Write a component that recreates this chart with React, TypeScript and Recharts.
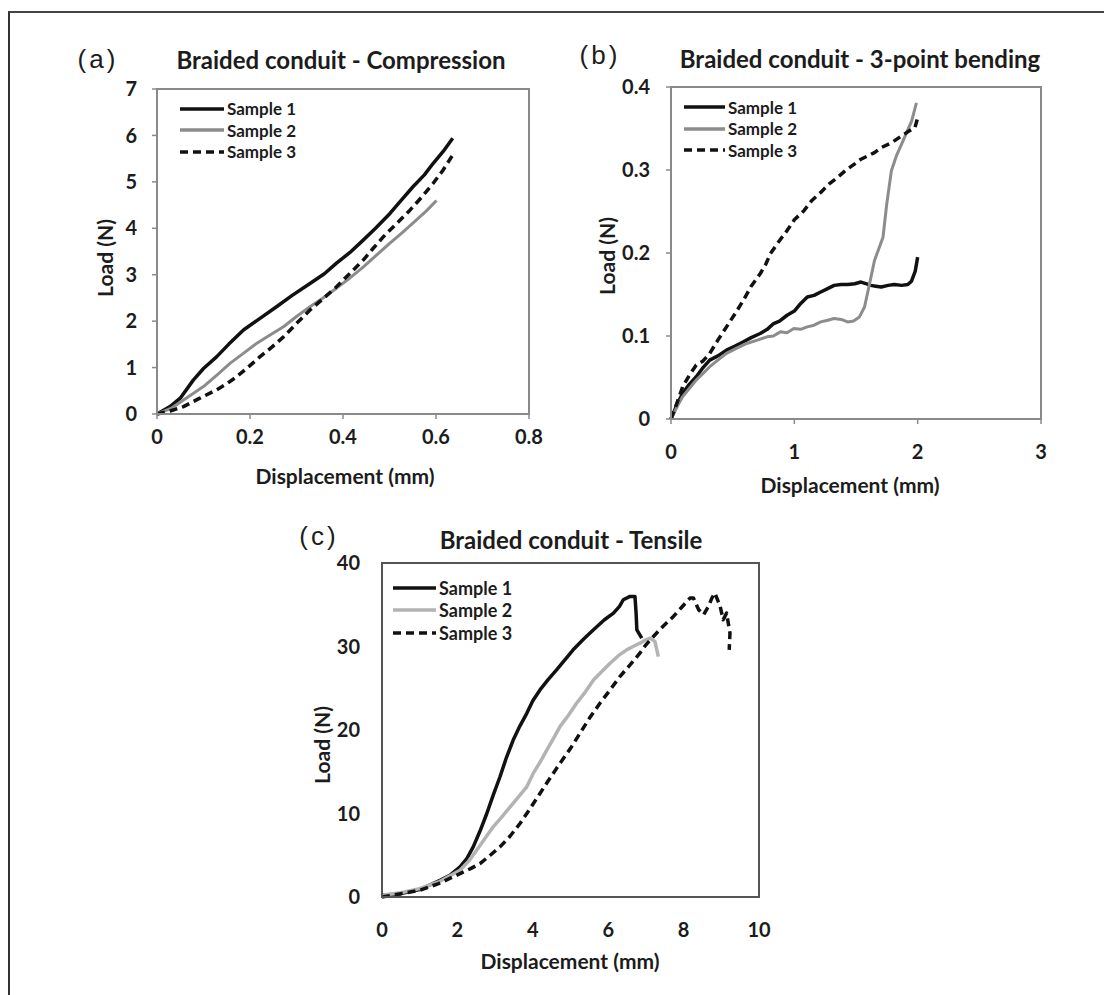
import React from "react";
import { LineChart, Line, XAxis, YAxis, Legend, ReferenceArea } from "recharts";

const FONT = "Lato, 'Open Sans', sans-serif";
const INK = "#1c1c1c";
const BLACK = "#111111";

// (a) compression
const compTicksX = [0, 0.2, 0.4, 0.6, 0.8];
const compTicksY = [0, 1, 2, 3, 4, 5, 6, 7];
const compSample1 = [
  { x: 0, y: 0 }, { x: 0.028, y: 0.16 }, { x: 0.05, y: 0.34 }, { x: 0.078, y: 0.73 }, { x: 0.1, y: 0.98 },
  { x: 0.128, y: 1.23 }, { x: 0.154, y: 1.5 }, { x: 0.186, y: 1.81 }, { x: 0.22, y: 2.05 }, { x: 0.257, y: 2.31 },
  { x: 0.29, y: 2.55 }, { x: 0.329, y: 2.81 }, { x: 0.36, y: 3.02 }, { x: 0.386, y: 3.25 }, { x: 0.415, y: 3.48 },
  { x: 0.444, y: 3.75 }, { x: 0.47, y: 4.0 }, { x: 0.501, y: 4.32 }, { x: 0.525, y: 4.6 }, { x: 0.551, y: 4.9 },
  { x: 0.575, y: 5.15 }, { x: 0.594, y: 5.4 }, { x: 0.615, y: 5.65 }, { x: 0.636, y: 5.94 },
];
const compSample2 = [
  { x: 0, y: 0 }, { x: 0.03, y: 0.12 }, { x: 0.057, y: 0.3 }, { x: 0.1, y: 0.59 }, { x: 0.13, y: 0.85 },
  { x: 0.157, y: 1.09 }, { x: 0.185, y: 1.3 }, { x: 0.214, y: 1.52 }, { x: 0.243, y: 1.7 }, { x: 0.272, y: 1.88 },
  { x: 0.3, y: 2.1 }, { x: 0.329, y: 2.31 }, { x: 0.357, y: 2.5 }, { x: 0.386, y: 2.71 }, { x: 0.415, y: 2.93 },
  { x: 0.444, y: 3.17 }, { x: 0.472, y: 3.42 }, { x: 0.501, y: 3.68 }, { x: 0.53, y: 3.93 }, { x: 0.558, y: 4.18 },
  { x: 0.58, y: 4.38 }, { x: 0.601, y: 4.6 },
];
const compSample3 = [
  { x: 0, y: 0 }, { x: 0.03, y: 0.07 }, { x: 0.057, y: 0.16 }, { x: 0.09, y: 0.33 }, { x: 0.128, y: 0.52 },
  { x: 0.15, y: 0.65 }, { x: 0.171, y: 0.8 }, { x: 0.195, y: 1.0 }, { x: 0.221, y: 1.23 }, { x: 0.247, y: 1.44 },
  { x: 0.272, y: 1.66 }, { x: 0.3, y: 1.95 }, { x: 0.329, y: 2.24 }, { x: 0.357, y: 2.48 }, { x: 0.386, y: 2.74 },
  { x: 0.415, y: 3.03 }, { x: 0.444, y: 3.32 }, { x: 0.465, y: 3.57 }, { x: 0.487, y: 3.82 }, { x: 0.515, y: 4.1 },
  { x: 0.544, y: 4.39 }, { x: 0.57, y: 4.68 }, { x: 0.594, y: 4.97 }, { x: 0.615, y: 5.25 }, { x: 0.638, y: 5.61 },
];

// (b) 3-point bending
const bendTicksX = [0, 1, 2, 3];
const bendTicksY = [0, 0.1, 0.2, 0.3, 0.4];
const bendSample1 = [
  { x: 0, y: 0 }, { x: 0.05, y: 0.018 }, { x: 0.095, y: 0.031 }, { x: 0.15, y: 0.042 }, { x: 0.205, y: 0.051 },
  { x: 0.26, y: 0.062 }, { x: 0.314, y: 0.071 }, { x: 0.38, y: 0.076 }, { x: 0.45, y: 0.083 }, { x: 0.52, y: 0.088 },
  { x: 0.587, y: 0.093 }, { x: 0.65, y: 0.098 }, { x: 0.723, y: 0.103 }, { x: 0.78, y: 0.108 }, { x: 0.832, y: 0.115 },
  { x: 0.88, y: 0.118 }, { x: 0.941, y: 0.125 }, { x: 1.0, y: 0.13 }, { x: 1.05, y: 0.139 }, { x: 1.105, y: 0.147 },
  { x: 1.16, y: 0.149 }, { x: 1.214, y: 0.153 }, { x: 1.27, y: 0.157 }, { x: 1.323, y: 0.161 }, { x: 1.38, y: 0.162 },
  { x: 1.432, y: 0.162 }, { x: 1.49, y: 0.163 }, { x: 1.54, y: 0.165 }, { x: 1.58, y: 0.163 }, { x: 1.62, y: 0.161 },
  { x: 1.66, y: 0.16 }, { x: 1.705, y: 0.159 }, { x: 1.76, y: 0.161 }, { x: 1.81, y: 0.162 }, { x: 1.87, y: 0.161 },
  { x: 1.92, y: 0.162 }, { x: 1.95, y: 0.166 }, { x: 1.98, y: 0.178 }, { x: 2.0, y: 0.195 },
];
const bendSample2 = [
  { x: 0, y: 0 }, { x: 0.05, y: 0.015 }, { x: 0.095, y: 0.027 }, { x: 0.15, y: 0.037 }, { x: 0.205, y: 0.047 },
  { x: 0.26, y: 0.055 }, { x: 0.314, y: 0.063 }, { x: 0.38, y: 0.071 }, { x: 0.45, y: 0.079 }, { x: 0.53, y: 0.085 },
  { x: 0.614, y: 0.091 }, { x: 0.7, y: 0.095 }, { x: 0.778, y: 0.099 }, { x: 0.83, y: 0.1 }, { x: 0.887, y: 0.105 },
  { x: 0.94, y: 0.104 }, { x: 0.996, y: 0.109 }, { x: 1.05, y: 0.108 }, { x: 1.105, y: 0.111 }, { x: 1.16, y: 0.113 },
  { x: 1.214, y: 0.117 }, { x: 1.27, y: 0.119 }, { x: 1.323, y: 0.121 }, { x: 1.38, y: 0.12 }, { x: 1.432, y: 0.117 },
  { x: 1.48, y: 0.118 }, { x: 1.528, y: 0.123 }, { x: 1.569, y: 0.135 }, { x: 1.61, y: 0.163 }, { x: 1.65, y: 0.191 },
  { x: 1.719, y: 0.219 }, { x: 1.75, y: 0.26 }, { x: 1.787, y: 0.299 }, { x: 1.83, y: 0.318 }, { x: 1.869, y: 0.331 },
  { x: 1.91, y: 0.345 }, { x: 1.951, y: 0.359 }, { x: 1.99, y: 0.381 },
];
const bendSample3 = [
  { x: 0, y: 0 }, { x: 0.05, y: 0.02 }, { x: 0.095, y: 0.039 }, { x: 0.15, y: 0.053 }, { x: 0.205, y: 0.065 },
  { x: 0.26, y: 0.07 }, { x: 0.314, y: 0.079 }, { x: 0.38, y: 0.095 }, { x: 0.45, y: 0.111 }, { x: 0.52, y: 0.127 },
  { x: 0.587, y: 0.143 }, { x: 0.65, y: 0.16 }, { x: 0.723, y: 0.175 }, { x: 0.77, y: 0.187 }, { x: 0.805, y: 0.199 },
  { x: 0.87, y: 0.213 }, { x: 0.941, y: 0.227 }, { x: 1.0, y: 0.24 }, { x: 1.078, y: 0.251 }, { x: 1.14, y: 0.263 },
  { x: 1.214, y: 0.273 }, { x: 1.28, y: 0.283 }, { x: 1.35, y: 0.291 }, { x: 1.42, y: 0.3 }, { x: 1.487, y: 0.307 },
  { x: 1.54, y: 0.313 }, { x: 1.596, y: 0.317 }, { x: 1.65, y: 0.321 }, { x: 1.705, y: 0.327 }, { x: 1.79, y: 0.333 },
  { x: 1.869, y: 0.341 }, { x: 1.93, y: 0.347 }, { x: 1.978, y: 0.351 }, { x: 2.0, y: 0.363 },
];

// (c) tensile
const tensTicksX = [0, 2, 4, 6, 8, 10];
const tensTicksY = [0, 10, 20, 30, 40];
const tensSample1 = [
  { x: 0, y: 0.2 }, { x: 0.5, y: 0.4 }, { x: 1.0, y: 0.9 }, { x: 1.54, y: 2.0 }, { x: 1.8, y: 2.6 },
  { x: 2.07, y: 3.6 }, { x: 2.25, y: 4.6 }, { x: 2.42, y: 6.0 }, { x: 2.6, y: 7.9 }, { x: 2.78, y: 10.0 },
  { x: 2.95, y: 12.2 }, { x: 3.13, y: 14.4 }, { x: 3.3, y: 16.7 }, { x: 3.48, y: 18.8 }, { x: 3.66, y: 20.5 },
  { x: 3.84, y: 22.0 }, { x: 4.0, y: 23.5 }, { x: 4.19, y: 24.8 }, { x: 4.4, y: 26.0 }, { x: 4.63, y: 27.2 },
  { x: 4.85, y: 28.4 }, { x: 5.07, y: 29.6 }, { x: 5.35, y: 30.9 }, { x: 5.61, y: 32.0 }, { x: 5.9, y: 33.2 },
  { x: 6.14, y: 34.0 }, { x: 6.3, y: 34.8 }, { x: 6.4, y: 35.6 }, { x: 6.58, y: 36.0 }, { x: 6.71, y: 36.0 },
  { x: 6.74, y: 34.0 }, { x: 6.76, y: 32.0 }, { x: 6.89, y: 31.0 },
];
const tensSample2 = [
  { x: 0, y: 0.2 }, { x: 0.5, y: 0.5 }, { x: 1.0, y: 1.0 }, { x: 1.5, y: 1.8 }, { x: 2.07, y: 3.2 },
  { x: 2.3, y: 4.3 }, { x: 2.51, y: 5.6 }, { x: 2.73, y: 7.0 }, { x: 2.95, y: 8.4 }, { x: 3.18, y: 9.6 },
  { x: 3.4, y: 10.8 }, { x: 3.62, y: 12.0 }, { x: 3.84, y: 13.2 }, { x: 4.01, y: 14.8 }, { x: 4.2, y: 16.2 },
  { x: 4.37, y: 17.6 }, { x: 4.55, y: 19.0 }, { x: 4.72, y: 20.4 }, { x: 4.95, y: 21.8 }, { x: 5.16, y: 23.2 },
  { x: 5.4, y: 24.6 }, { x: 5.61, y: 26.0 }, { x: 5.83, y: 27.0 }, { x: 6.05, y: 28.0 }, { x: 6.27, y: 28.9 },
  { x: 6.49, y: 29.6 }, { x: 6.66, y: 30.0 }, { x: 6.84, y: 30.4 }, { x: 7.0, y: 30.8 }, { x: 7.11, y: 31.0 },
  { x: 7.24, y: 30.6 }, { x: 7.33, y: 28.8 },
];
const tensSample3 = [
  { x: 0, y: 0 }, { x: 0.5, y: 0.4 }, { x: 1.0, y: 0.8 }, { x: 1.5, y: 1.6 }, { x: 2.07, y: 2.8 },
  { x: 2.35, y: 3.4 }, { x: 2.6, y: 4.0 }, { x: 2.87, y: 5.0 }, { x: 3.13, y: 6.0 }, { x: 3.4, y: 7.3 },
  { x: 3.66, y: 8.8 }, { x: 3.93, y: 10.6 }, { x: 4.19, y: 12.4 }, { x: 4.45, y: 14.2 }, { x: 4.72, y: 16.0 },
  { x: 5.0, y: 17.8 }, { x: 5.25, y: 19.6 }, { x: 5.5, y: 21.4 }, { x: 5.78, y: 23.2 }, { x: 6.05, y: 24.8 },
  { x: 6.31, y: 26.4 }, { x: 6.58, y: 27.8 }, { x: 6.84, y: 29.2 }, { x: 7.0, y: 30.2 }, { x: 7.2, y: 31.2 },
  { x: 7.45, y: 32.4 }, { x: 7.73, y: 33.6 }, { x: 7.95, y: 34.7 }, { x: 8.17, y: 35.8 }, { x: 8.26, y: 35.8 },
  { x: 8.4, y: 34.4 }, { x: 8.53, y: 33.8 }, { x: 8.66, y: 34.8 }, { x: 8.75, y: 35.8 }, { x: 8.83, y: 36.4 },
  { x: 8.97, y: 34.8 }, { x: 9.05, y: 33.2 }, { x: 9.14, y: 34.0 }, { x: 9.23, y: 31.6 }, { x: 9.21, y: 29.6 },
];

type Pt = { x: number; y: number };
type Series = { name: string; data: Pt[]; color: string; width: number; dash?: string };
type Box = { x: number; y: number; w: number; h: number };

type PanelProps = {
  plot: Box;
  xTicks: number[];
  yTicks: number[];
  series: Series[];
  boxColor: string;
  tickLen: number;
  xGap: number;
  yGap: number;
  tickFont: number;
  legend: { x: number; y: number; lineW: number; font: number; rowH: number };
};

function Panel({ plot, xTicks, yTicks, series, boxColor, tickLen, xGap, yGap, tickFont, legend }: PanelProps) {
  const left = plot.x - 100;
  const top = plot.y - 20;
  const tick = { fill: INK, fontSize: tickFont, fontFamily: FONT, fontWeight: 700 };
  const xMax = xTicks[xTicks.length - 1];
  const yMax = yTicks[yTicks.length - 1];

  const renderLegend = (props: any) => {
    const payload = props.payload || [];
    return (
      <div>
        {payload.map((p: any) => {
          const s = series.find((d) => d.name === p.value)!;
          return (
            <div key={s.name} style={{ display: "flex", alignItems: "center", height: legend.rowH }}>
              <svg width={legend.lineW} height={8}>
                <line x1={0} y1={4} x2={legend.lineW} y2={4} stroke={s.color} strokeWidth={3.5} strokeDasharray={s.dash} />
              </svg>
              <span style={{ marginLeft: 3, fontFamily: FONT, fontWeight: 700, fontSize: legend.font, color: INK, lineHeight: 1 }}>
                {s.name}
              </span>
            </div>
          );
        })}
      </div>
    );
  };

  return (
    <div style={{ position: "absolute", left, top }}>
      <LineChart width={plot.w + 140} height={plot.h + 80} margin={{ top: 20, right: 40, bottom: 30, left: 40 }}>
        <XAxis
          type="number"
          dataKey="x"
          domain={[0, xMax]}
          ticks={xTicks}
          height={30}
          tick={tick}
          tickSize={tickLen}
          tickMargin={xGap}
          tickLine={tickLen > 0 ? { stroke: boxColor, strokeWidth: 1.5 } : false}
          axisLine={{ stroke: boxColor, strokeWidth: 2 }}
        />
        <YAxis
          type="number"
          dataKey="y"
          domain={[0, yMax]}
          ticks={yTicks}
          width={60}
          tick={tick}
          tickSize={tickLen}
          tickMargin={yGap}
          tickLine={tickLen > 0 ? { stroke: boxColor, strokeWidth: 1.5 } : false}
          axisLine={{ stroke: boxColor, strokeWidth: 2 }}
        />
        <ReferenceArea x1={0} x2={xMax} y1={0} y2={yMax} fill="none" stroke={boxColor} strokeWidth={2} ifOverflow="visible" />
        {series.map((s) => (
          <Line
            key={s.name}
            name={s.name}
            data={s.data}
            dataKey="y"
            type="linear"
            stroke={s.color}
            strokeWidth={s.width}
            strokeDasharray={s.dash}
            strokeLinejoin="round"
            dot={false}
            activeDot={false}
            isAnimationActive={false}
          />
        ))}
        <Legend
          layout="vertical"
          align="center"
          verticalAlign="middle"
          content={renderLegend}
          wrapperStyle={{ left: legend.x - left, top: legend.y - top, width: "auto" }}
        />
      </LineChart>
    </div>
  );
}

function Txt({ x, y, size, children, bold = true, rotate = false, family = FONT, spacing = 0 }: any) {
  return (
    <div
      style={{
        position: "absolute",
        left: x,
        top: y,
        transform: `translate(-50%, -50%)${rotate ? " rotate(-90deg)" : ""}`,
        fontFamily: family,
        fontSize: size,
        fontWeight: bold ? 700 : 400,
        letterSpacing: spacing,
        lineHeight: 1,
        whiteSpace: "nowrap",
        color: INK,
      }}
    >
      {children}
    </div>
  );
}

export default function App() {
  const comp: Series[] = [
    { name: "Sample 1", data: compSample1, color: BLACK, width: 3.5 },
    { name: "Sample 2", data: compSample2, color: "#8c8c8c", width: 3 },
    { name: "Sample 3", data: compSample3, color: BLACK, width: 3.5, dash: "8 5" },
  ];
  const bend: Series[] = [
    { name: "Sample 1", data: bendSample1, color: BLACK, width: 3.5 },
    { name: "Sample 2", data: bendSample2, color: "#8c8c8c", width: 3 },
    { name: "Sample 3", data: bendSample3, color: BLACK, width: 3.5, dash: "8 5" },
  ];
  const tens: Series[] = [
    { name: "Sample 1", data: tensSample1, color: BLACK, width: 3.5 },
    { name: "Sample 2", data: tensSample2, color: "#b3b3b3", width: 3.5 },
    { name: "Sample 3", data: tensSample3, color: BLACK, width: 3.5, dash: "8 5" },
  ];

  return (
    <div style={{ position: "absolute", left: 0, top: 0, width: 1104, height: 995, background: "#fff", overflow: "hidden" }}>
      <div
        style={{
          position: "absolute",
          left: 8,
          top: 11,
          width: 1100,
          height: 990,
          borderLeft: "2px solid #333",
          borderTop: "2px solid #444",
        }}
      />

      <Txt x={98} y={59} size={26} bold={false} family="'Liberation Sans', Arial, sans-serif" spacing={3}>(a)</Txt>
      <Txt x={341} y={60} size={24}>Braided conduit - Compression</Txt>
      <Txt x={104} y={258} size={21} rotate>Load (N)</Txt>
      <Txt x={345} y={475} size={21}>Displacement (mm)</Txt>
      <Panel
        plot={{ x: 157, y: 89, w: 372, h: 325 }}
        xTicks={compTicksX}
        yTicks={compTicksY}
        series={comp}
        boxColor="#8a8a8a"
        tickLen={5}
        xGap={11}
        yGap={15}
        tickFont={20}
        legend={{ x: 180, y: 97.75, lineW: 44, font: 17, rowH: 21.5 }}
      />

      <Txt x={600} y={55} size={26} bold={false} family="'Liberation Sans', Arial, sans-serif" spacing={3}>(b)</Txt>
      <Txt x={860} y={59} size={24}>Braided conduit - 3-point bending</Txt>
      <Txt x={606} y={256} size={21} rotate>Load (N)</Txt>
      <Txt x={850} y={484} size={21}>Displacement (mm)</Txt>
      <Panel
        plot={{ x: 671, y: 87, w: 370, h: 332 }}
        xTicks={bendTicksX}
        yTicks={bendTicksY}
        series={bend}
        boxColor="#8a8a8a"
        tickLen={5}
        xGap={21}
        yGap={16}
        tickFont={20}
        legend={{ x: 684, y: 96.25, lineW: 41, font: 17, rowH: 21.5 }}
      />

      <Txt x={319} y={536} size={26} bold={false} family="'Liberation Sans', Arial, sans-serif" spacing={3}>(c)</Txt>
      <Txt x={571} y={540} size={24}>Braided conduit - Tensile</Txt>
      <Txt x={321} y={745} size={21} rotate>Load (N)</Txt>
      <Txt x={570} y={960} size={21}>Displacement (mm)</Txt>
      <Panel
        plot={{ x: 382, y: 563, w: 377, h: 334 }}
        xTicks={tensTicksX}
        yTicks={tensTicksY}
        series={tens}
        boxColor="#555555"
        tickLen={0}
        xGap={26}
        yGap={22}
        tickFont={20}
        legend={{ x: 393, y: 576.3, lineW: 43, font: 18, rowH: 22.8 }}
      />
    </div>
  );
}
